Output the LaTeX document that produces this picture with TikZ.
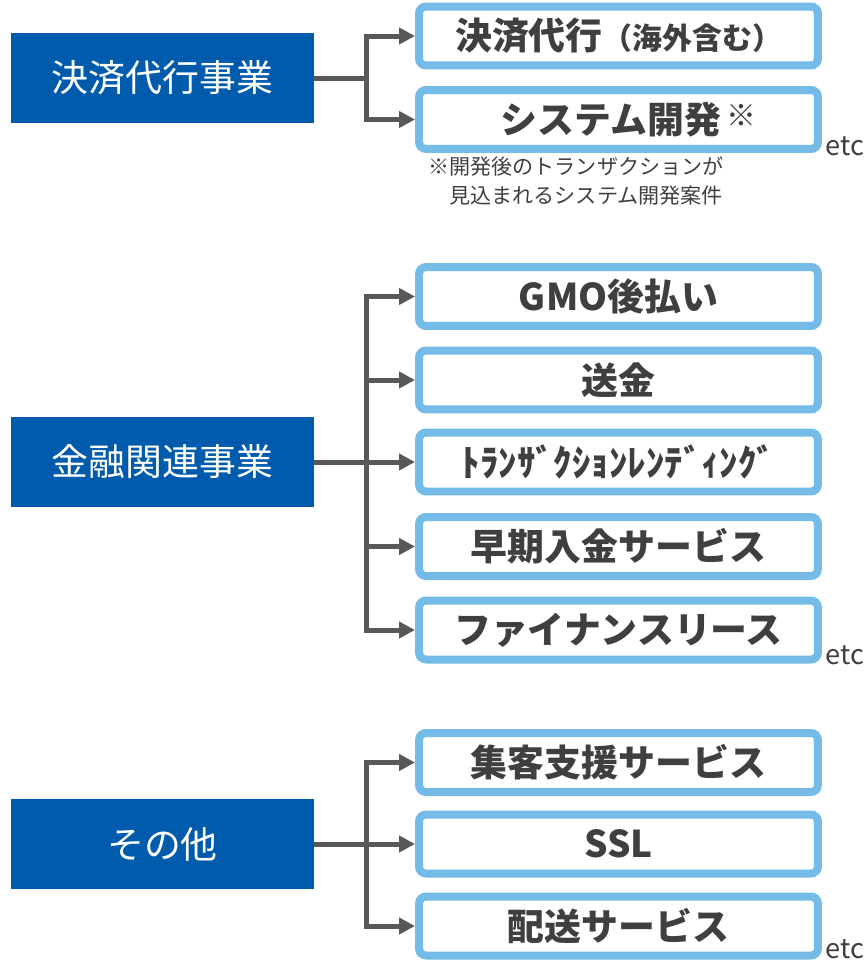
\documentclass[tikz,border=0pt]{standalone}
\usepackage{fontspec}
\setmainfont{Noto Sans CJK JP}
\usepackage{xcolor}
\usetikzlibrary{arrows.meta,positioning}
\definecolor{seg-blue}{HTML}{005BAC}
\definecolor{svc-blue}{HTML}{74BBE7}
\definecolor{link-gray}{HTML}{595757}
\definecolor{text-gray}{HTML}{3F3F3F}
\tikzstyle{segbox}=[rectangle,fill=seg-blue,text=white,minimum width=6.06cm,minimum height=1.8cm,inner sep=0pt,font=\fontsize{21pt}{25pt}\selectfont]
\tikzstyle{svcbox}=[rectangle,draw=svc-blue,line width=0.16cm,rounded corners=0.14cm,fill=white,minimum width=7.98cm,minimum height=1.18cm,inner sep=0pt,text=text-gray,font=\bfseries\fontsize{21pt}{25pt}\selectfont]
\tikzstyle{link}=[draw=link-gray,line width=0.1cm]
\tikzstyle{arrow}=[link,-{Triangle[length=0.32cm,width=0.32cm]}]
\tikzstyle{note}=[anchor=north west,align=left,inner sep=0pt,text=text-gray,font=\fontsize{12pt}{16.5pt}\selectfont]
\tikzstyle{etcnote}=[anchor=base west,inner sep=0pt,text=text-gray,font=\fontsize{15.5pt}{17pt}\selectfont]

\begin{document}
\begin{tikzpicture}[x=0.02cm,y=-0.02cm]
    \useasboundingbox (0,0) rectangle (865,960);

    % payment agency
    \node[segbox] at (162.5,78) (pay) {決済代行事業};
    \node[svcbox] at (618.5,36) (pay1) {決済代行{\fontsize{17pt}{20pt}\selectfont （海外含む）}};
    \node[svcbox] at (618.5,119.5) (pay2) {\hspace*{0.4cm}システム開発\hspace{3pt}\raisebox{0.2em}{\mdseries\fontsize{17pt}{19pt}\selectfont ※}};
    \node[etcnote] at (825,155) (payetc) {etc};
    \node[note] at (428,156) (paynote) {※開発後のトランザクションが\\　見込まれるシステム開発案件};

    \coordinate (paysplit) at (366,78);
    \draw[link] (pay.east) -- (paysplit);
    \draw[arrow] (paysplit) |- (pay1.west);
    \draw[arrow] (paysplit) |- (pay2.west);

    % financial
    \node[segbox] at (162.5,462) (fin) {金融関連事業};
    \node[svcbox] at (618.5,296.5) (fin1) {GMO後払い};
    \node[svcbox] at (618.5,380) (fin2) {送金};
    \node[svcbox] at (618.5,462) (fin3) {ﾄﾗﾝｻﾞｸｼｮﾝﾚﾝﾃﾞｨﾝｸﾞ};
    \node[svcbox] at (618.5,546.5) (fin4) {早期入金サービス};
    \node[svcbox] at (618.5,630) (fin5) {ファイナンスリース};
    \node[etcnote] at (825,664) (finetc) {etc};

    \coordinate (finsplit) at (366,462);
    \draw[link] (fin.east) -- (finsplit);
    \foreach \n in {fin1,fin2,fin3,fin4,fin5}
        \draw[arrow] (finsplit) |- (\n.west);

    % others
    \node[segbox] at (162.5,844) (oth) {その他};
    \node[svcbox] at (618.5,762.5) (oth1) {集客支援サービス};
    \node[svcbox] at (618.5,844) (oth2) {SSL};
    \node[svcbox] at (618.5,926) (oth3) {配送サービス};
    \node[etcnote] at (825,958) (othetc) {etc};

    \coordinate (othsplit) at (366,844);
    \draw[link] (oth.east) -- (othsplit);
    \foreach \n in {oth1,oth2,oth3}
        \draw[arrow] (othsplit) |- (\n.west);
\end{tikzpicture}
\end{document}
